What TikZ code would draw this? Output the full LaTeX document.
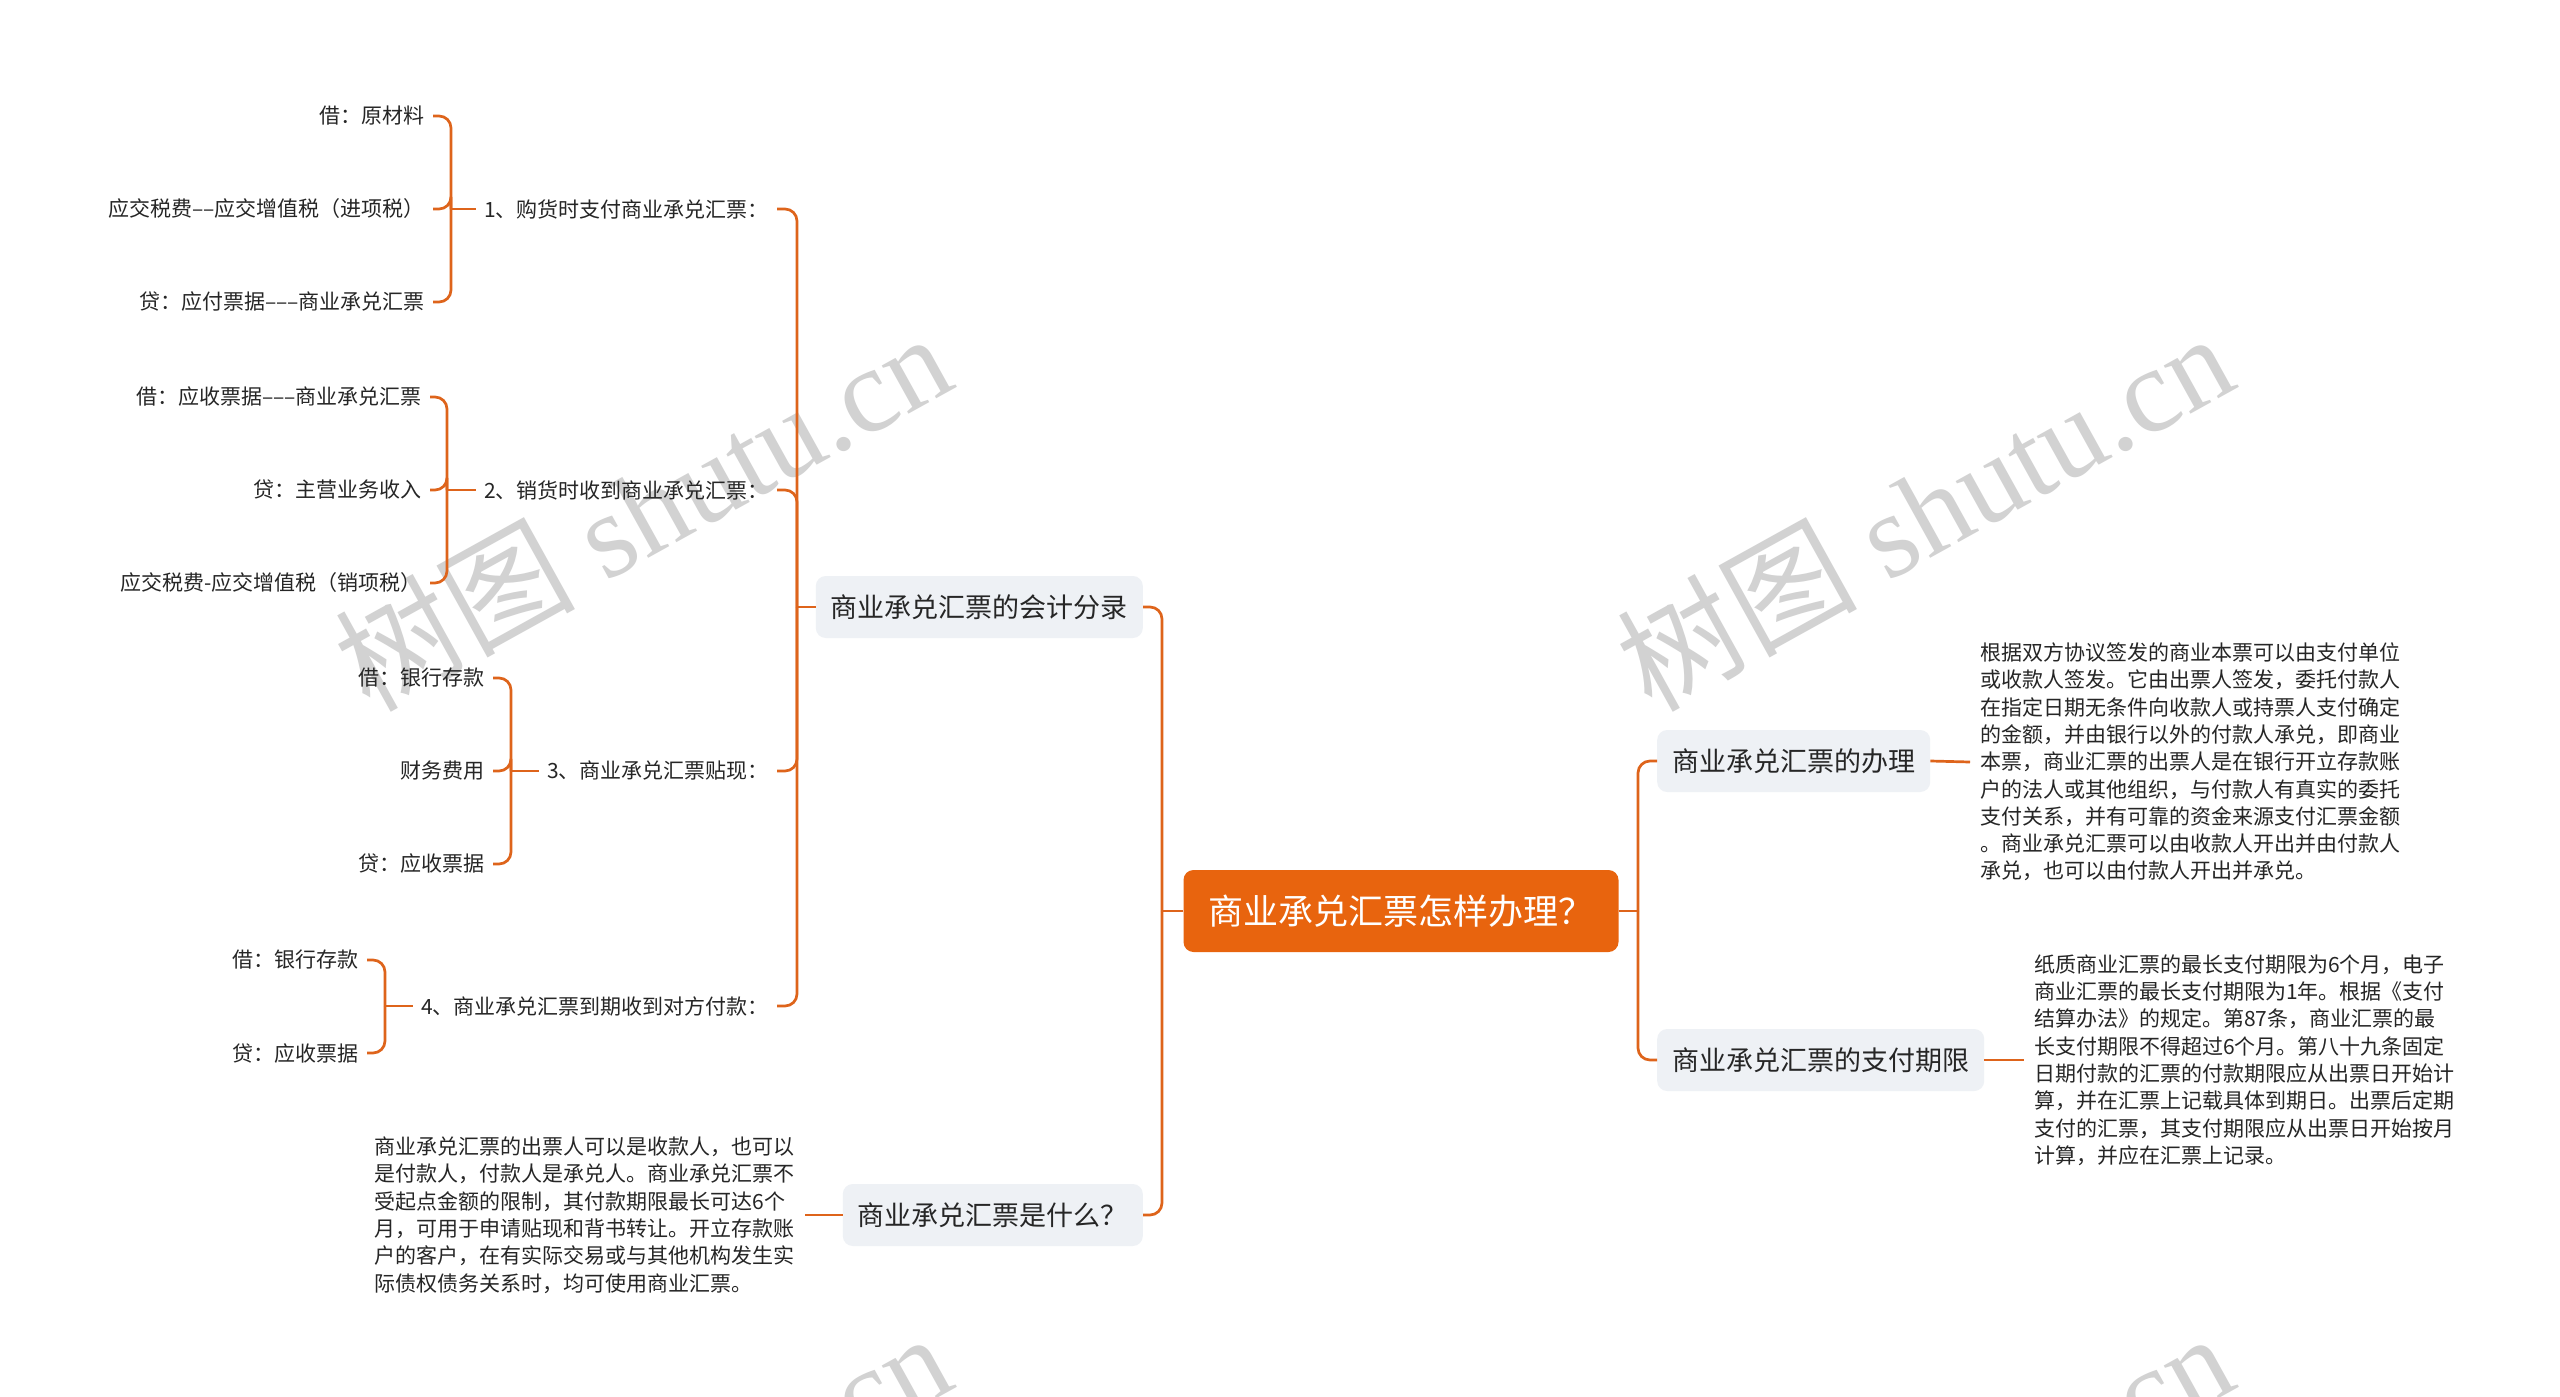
\documentclass[tikz,border=0pt]{standalone}
\usepackage{fontspec}
\setmainfont{Noto Sans CJK SC}
\newfontfamily\cjk{Noto Sans CJK SC}
\newfontfamily\wmfont{Liberation Serif}
\definecolor{lineor}{HTML}{DE641B}
\definecolor{rootor}{HTML}{E8640E}
\definecolor{boxgray}{HTML}{EEF1F5}
\definecolor{txt}{HTML}{262626}
\definecolor{wmgray}{HTML}{D2D2D2}
\begin{document}
\begin{tikzpicture}[x=1pt,y=-1pt,
  conn/.style={draw=lineor,line width=2.7pt,rounded corners=12pt},
  rootbox/.style={fill=rootor,rounded corners=10pt,text=white,font=\fontsize{35}{42}\selectfont,minimum height=82pt,inner xsep=25pt},
  subbox/.style={fill=boxgray,rounded corners=10pt,text=txt,font=\fontsize{27}{32}\selectfont,minimum height=62pt,inner xsep=15pt},
  leaf/.style={text=txt,font=\fontsize{21}{25}\selectfont,inner xsep=8pt,inner ysep=2pt},
  para/.style={text=txt,font=\fontsize{21}{27.3}\selectfont,align=left,inner xsep=10pt,inner ysep=0pt},
  wmark/.style={text=wmgray,rotate=29,font=\wmfont\fontsize{120}{120}\selectfont,inner sep=0pt}
]
\useasboundingbox (0,0) rectangle (2560,1397);
\fill[white] (0,0) rectangle (2560,1397);
\clip (0,0) rectangle (2560,1397);

% watermarks
\node[wmark] (wm1) at (642,510) {{\cjk 树图} shutu.cn};
\node[wmark] (wm2) at (1924,510) {{\cjk 树图} shutu.cn};
\node[wmark] (wm3) at (642,1510) {{\cjk 树图} shutu.cn};
\node[wmark] (wm4) at (1924,1510) {{\cjk 树图} shutu.cn};

% root and main branches
\node[rootbox] (root) at (1401,911) {商业承兑汇票怎样办理？};
\node[subbox,anchor=east] (kj) at (1143,607) {商业承兑汇票的会计分录};
\node[subbox,anchor=east] (sm) at (1143,1215) {商业承兑汇票是什么？};
\node[subbox,anchor=west] (bl) at (1657,761) {商业承兑汇票的办理};
\node[subbox,anchor=west] (qx) at (1657,1060) {商业承兑汇票的支付期限};

\coordinate (jl) at (1162,911);
\coordinate (jr) at (1638,911);
\draw[conn] (root.west) -- (jl);
\draw[conn] (jl) |- (kj.east);
\draw[conn] (jl) |- (sm.east);
\draw[conn] (root.east) -- (jr);
\draw[conn] (jr) |- (bl.west);
\draw[conn] (jr) |- (qx.west);

% text blocks
\node[para,anchor=west] (blt) at (1970,762) {根据双方协议签发的商业本票可以由支付单位\\%
或收款人签发。它由出票人签发，委托付款人\\%
在指定日期无条件向收款人或持票人支付确定\\%
的金额，并由银行以外的付款人承兑，即商业\\%
本票，商业汇票的出票人是在银行开立存款账\\%
户的法人或其他组织，与付款人有真实的委托\\%
支付关系，并有可靠的资金来源支付汇票金额\\%
。商业承兑汇票可以由收款人开出并由付款人\\%
承兑，也可以由付款人开出并承兑。};
\node[para,anchor=west] (qxt) at (2024,1060) {纸质商业汇票的最长支付期限为6个月，电子\\%
商业汇票的最长支付期限为1年。根据《支付\\%
结算办法》的规定。第87条，商业汇票的最\\%
长支付期限不得超过6个月。第八十九条固定\\%
日期付款的汇票的付款期限应从出票日开始计\\%
算，并在汇票上记载具体到期日。出票后定期\\%
支付的汇票，其支付期限应从出票日开始按月\\%
计算，并应在汇票上记录。};
\node[para,anchor=east] (smt) at (805,1215) {商业承兑汇票的出票人可以是收款人，也可以\\%
是付款人，付款人是承兑人。商业承兑汇票不\\%
受起点金额的限制，其付款期限最长可达6个\\%
月，可用于申请贴现和背书转让。开立存款账\\%
户的客户，在有实际交易或与其他机构发生实\\%
际债权债务关系时，均可使用商业汇票。};
\draw[conn] (bl.east) -- (blt.west);
\draw[conn] (qx.east) -- (qxt.west);
\draw[conn] (sm.west) -- (smt.east);

% accounting entries
\node[leaf,anchor=east] (p1) at (777,209) {1、购货时支付商业承兑汇票：};
\node[leaf,anchor=east] (p2) at (777,490) {2、销货时收到商业承兑汇票：};
\node[leaf,anchor=east] (p3) at (777,771) {3、商业承兑汇票贴现：};
\node[leaf,anchor=east] (p4) at (777,1006) {4、商业承兑汇票到期收到对方付款：};
\coordinate (jk) at (797,607);
\draw[conn] (kj.west) -- (jk);
\draw[conn] (jk) |- (p1.east);
\draw[conn] (jk) |- (p2.east);
\draw[conn] (jk) |- (p3.east);
\draw[conn] (jk) |- (p4.east);

% group 1
\node[leaf,anchor=east] (l11) at (433,116) {借：原材料};
\node[leaf,anchor=east] (l12) at (433,209) {应交税费––应交增值税（进项税）};
\node[leaf,anchor=east] (l13) at (433,302) {贷：应付票据–––商业承兑汇票};
\coordinate (g1) at (451,209);
\draw[conn] (p1.west) -- (g1);
\draw[conn] (g1) |- (l11.east);
\draw[conn] (g1) |- (l12.east);
\draw[conn] (g1) |- (l13.east);

% group 2
\node[leaf,anchor=east] (l21) at (430,397) {借：应收票据–––商业承兑汇票};
\node[leaf,anchor=east] (l22) at (430,490) {贷：主营业务收入};
\node[leaf,anchor=east] (l23) at (430,583) {应交税费-应交增值税（销项税）};
\coordinate (g2) at (447,490);
\draw[conn] (p2.west) -- (g2);
\draw[conn] (g2) |- (l21.east);
\draw[conn] (g2) |- (l22.east);
\draw[conn] (g2) |- (l23.east);

% group 3
\node[leaf,anchor=east] (l31) at (493,678) {借：银行存款};
\node[leaf,anchor=east] (l32) at (493,771) {财务费用};
\node[leaf,anchor=east] (l33) at (493,864) {贷：应收票据};
\coordinate (g3) at (511,771);
\draw[conn] (p3.west) -- (g3);
\draw[conn] (g3) |- (l31.east);
\draw[conn] (g3) |- (l32.east);
\draw[conn] (g3) |- (l33.east);

% group 4
\node[leaf,anchor=east] (l41) at (367,960) {借：银行存款};
\node[leaf,anchor=east] (l42) at (367,1053) {贷：应收票据};
\coordinate (g4) at (385,1006);
\draw[conn] (p4.west) -- (g4);
\draw[conn] (g4) |- (l41.east);
\draw[conn] (g4) |- (l42.east);
\end{tikzpicture}
\end{document}
